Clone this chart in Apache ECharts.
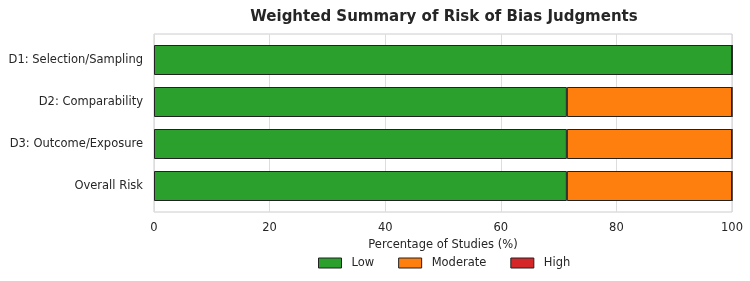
<!DOCTYPE html>
<html>
<head>
<meta charset="utf-8">
<script src="https://cdn.jsdelivr.net/npm/echarts@6/dist/echarts.min.js"></script>
<style>
    html, body { margin: 0; padding: 0; background: #fff; }
    #main { width: 750px; height: 281px; }
</style>
</head>
<body>
<div id="main"></div>
<script type="text/javascript">
    var domains = ['D1: Selection/Sampling', 'D2: Comparability', 'D3: Outcome/Exposure', 'Overall Risk'];
    var lowVals = [100, 71.43, 71.43, 71.43];
    var moderateVals = [0, 28.57, 28.57, 28.57];
    var highVals = [0, 0, 0, 0];
    var xTicks = [0, 20, 40, 60, 80, 100];

    var font = 'DejaVu Sans';
    var txt = '#262626';
    var myChart = echarts.init(document.getElementById('main'), null, { renderer: 'canvas' });

    function barSeries(name, data, color) {
        return {
            name: name,
            type: 'bar',
            stack: 'total',
            xAxisIndex: 1,
            yAxisIndex: 1,
            barWidth: 30,
            data: data,
            itemStyle: { color: color, borderColor: '#222', borderWidth: 1 },
            emphasis: { disabled: true }
        };
    }

    option = {
        animation: false,
        textStyle: { fontFamily: font },
        title: {
            text: 'Weighted Summary of Risk of Bias Judgments',
            left: 439,
            top: 5,
            textAlign: 'center',
            textStyle: { fontFamily: font, fontSize: 15, fontWeight: 'bold', color: txt }
        },
        legend: {
            bottom: 7,
            left: 313,
            icon: 'rect',
            itemWidth: 23,
            itemHeight: 10,
            itemGap: 24,
            itemStyle: { borderColor: '#222', borderWidth: 1 },
            textStyle: { fontFamily: font, fontSize: 11.5, color: txt, padding: [0, 0, 0, 5] },
            data: ['Low', 'Moderate', 'High']
        },
        grid: [
            { left: 154, right: 18, top: 34, height: 178, show: true, borderColor: '#cccccc', borderWidth: 1 },
            { left: 154, right: 18, top: 39, height: 168 }
        ],
        xAxis: [{
            gridIndex: 0,
            type: 'value',
            min: xTicks[0],
            max: xTicks[xTicks.length - 1],
            interval: 20,
            name: 'Percentage of Studies (%)',
            nameLocation: 'middle',
            nameGap: 25,
            nameTextStyle: { fontFamily: font, fontSize: 11.5, color: txt },
            axisLine: { show: false },
            axisTick: { show: false },
            axisLabel: { fontFamily: font, fontSize: 11.5, color: txt, margin: 10 },
            splitLine: { lineStyle: { color: '#dddddd', width: 1 } }
        }, {
            gridIndex: 1,
            type: 'value',
            min: xTicks[0],
            max: xTicks[xTicks.length - 1],
            show: false
        }],
        yAxis: [{
            gridIndex: 0,
            type: 'value',
            show: false
        }, {
            gridIndex: 1,
            type: 'category',
            inverse: true,
            data: domains,
            axisLine: { show: false },
            axisTick: { show: false },
            splitLine: { show: false },
            axisLabel: { fontFamily: font, fontSize: 11.5, color: txt, margin: 11 }
        }],
        series: [
            barSeries('Low', lowVals, '#2ca02c'),
            barSeries('Moderate', moderateVals, '#ff7f0e'),
            barSeries('High', highVals, '#d62728')
        ]
    };

    myChart.setOption(option);
</script>
</body>
</html>
